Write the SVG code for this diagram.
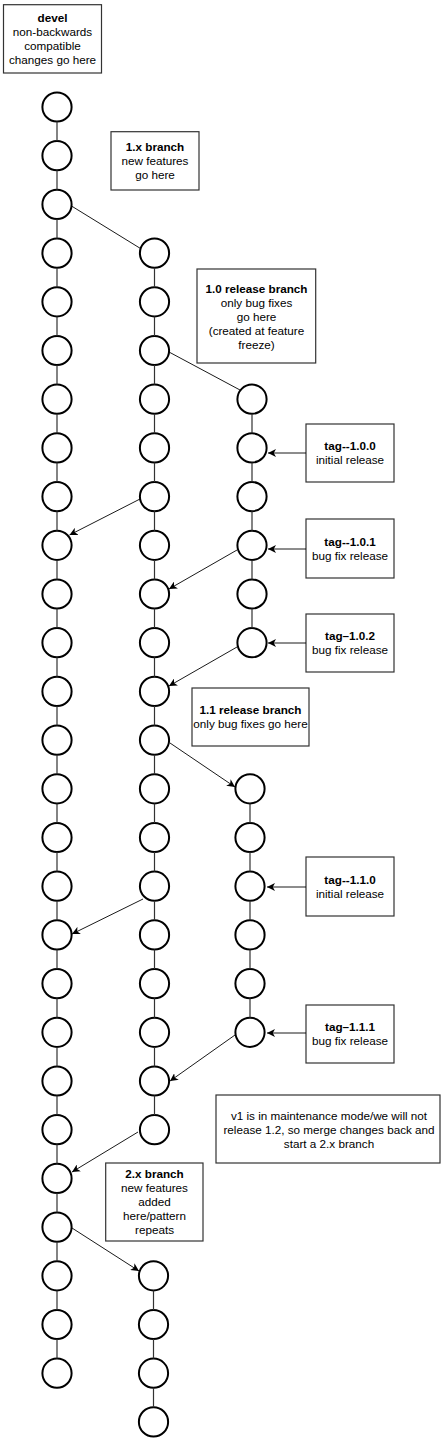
<svg xmlns="http://www.w3.org/2000/svg" width="446" height="1448" viewBox="0 0 446 1448">
<style>
.c{fill:#fff;stroke:#000;stroke-width:2}
.b{fill:#fff;stroke:#333;stroke-width:1.2}
.t{font-family:"Liberation Sans",Arial,Helvetica,sans-serif;font-size:11.7px;fill:#000;text-anchor:middle}
.bold{font-weight:bold}
.v{fill:none;stroke:#333;stroke-width:1.2}
.e{fill:none;stroke:#000;stroke-width:0.9}
.a{fill:none;stroke:#000;stroke-width:0.9;marker-end:url(#arr)}
</style>
<defs>
<marker id="arr" markerUnits="userSpaceOnUse" markerWidth="9" markerHeight="8" refX="8" refY="4" orient="auto">
<path d="M0,0 L8,4 L0,8 L2.2,4 Z" fill="#000"/>
</marker>
</defs>
<rect width="446" height="1448" fill="#fff"/>

<g id="labels">
<g id="devel-box">
<rect class="b" x="3.5" y="4.7" width="98" height="68.3"/>
<text class="t" x="52.5" y="22"><tspan class="bold">devel</tspan><tspan x="52.5" dy="14">non-backwards</tspan><tspan x="52.5" dy="14">compatible</tspan><tspan x="52.5" dy="14">changes go here</tspan></text>
</g>
<g id="1x-box">
<rect class="b" x="111" y="131.7" width="88" height="58.3"/>
<text class="t" x="155" y="151"><tspan class="bold">1.x branch</tspan><tspan x="155" dy="14">new features</tspan><tspan x="155" dy="14">go here</tspan></text>
</g>
<g id="10-box">
<rect class="b" x="197" y="269" width="118.7" height="94"/>
<text class="t" x="256.5" y="293"><tspan class="bold">1.0 release branch</tspan><tspan x="256.5" dy="14">only bug fixes</tspan><tspan x="256.5" dy="14">go here</tspan><tspan x="256.5" dy="14">(created at feature</tspan><tspan x="256.5" dy="14">freeze)</tspan></text>
</g>
<g id="11-box">
<rect class="b" x="192" y="688" width="117" height="58"/>
<text class="t" x="250.5" y="714"><tspan class="bold">1.1 release branch</tspan><tspan x="250.5" dy="14">only bug fixes go here</tspan></text>
</g>
<g id="tag100">
<rect class="b" x="306" y="424" width="88" height="58"/>
<text class="t" x="350" y="450"><tspan class="bold">tag--1.0.0</tspan><tspan x="350" dy="14">initial release</tspan></text>
</g>
<g id="tag101">
<rect class="b" x="306" y="519" width="88" height="59"/>
<text class="t" x="350" y="546"><tspan class="bold">tag--1.0.1</tspan><tspan x="350" dy="14">bug fix release</tspan></text>
</g>
<g id="tag102">
<rect class="b" x="306" y="614" width="88" height="58"/>
<text class="t" x="350" y="640"><tspan class="bold">tag–1.0.2</tspan><tspan x="350" dy="14">bug fix release</tspan></text>
</g>
<g id="tag110">
<rect class="b" x="306" y="857" width="88" height="59"/>
<text class="t" x="350" y="884"><tspan class="bold">tag--1.1.0</tspan><tspan x="350" dy="14">initial release</tspan></text>
</g>
<g id="tag111">
<rect class="b" x="306" y="1005" width="88" height="58"/>
<text class="t" x="350" y="1031"><tspan class="bold">tag–1.1.1</tspan><tspan x="350" dy="14">bug fix release</tspan></text>
</g>
<g id="v1-box">
<rect class="b" x="216" y="1095" width="224" height="68"/>
<text class="t" x="329" y="1120">v1 is in maintenance mode/we will not<tspan x="329" dy="14">release 1.2, so merge changes back and</tspan><tspan x="329" dy="14">start a 2.x branch</tspan></text>
</g>
<g id="2x-box">
<rect class="b" x="105.7" y="1163" width="97.3" height="78"/>
<text class="t" x="154.5" y="1178"><tspan class="bold">2.x branch</tspan><tspan x="154.5" dy="14">new features</tspan><tspan x="154.5" dy="14">added</tspan><tspan x="154.5" dy="14">here/pattern</tspan><tspan x="154.5" dy="14">repeats</tspan></text>
</g>
</g>

<g id="nodes">
<g id="devel">
<circle class="c" cx="57" cy="107" r="14.6"/>
<circle class="c" cx="57" cy="155.7" r="14.6"/>
<circle class="c" cx="57" cy="204.4" r="14.6"/>
<circle class="c" cx="57" cy="253.1" r="14.6"/>
<circle class="c" cx="57" cy="301.8" r="14.6"/>
<circle class="c" cx="57" cy="350.5" r="14.6"/>
<circle class="c" cx="57" cy="399.2" r="14.6"/>
<circle class="c" cx="57" cy="447.9" r="14.6"/>
<circle class="c" cx="57" cy="496.6" r="14.6"/>
<circle class="c" cx="57" cy="545.3" r="14.6"/>
<circle class="c" cx="57" cy="594" r="14.6"/>
<circle class="c" cx="57" cy="642.7" r="14.6"/>
<circle class="c" cx="57" cy="691.4" r="14.6"/>
<circle class="c" cx="57" cy="740.1" r="14.6"/>
<circle class="c" cx="57" cy="788.8" r="14.6"/>
<circle class="c" cx="57" cy="837.5" r="14.6"/>
<circle class="c" cx="57" cy="886.2" r="14.6"/>
<circle class="c" cx="57" cy="934.9" r="14.6"/>
<circle class="c" cx="57" cy="983.6" r="14.6"/>
<circle class="c" cx="57" cy="1032.3" r="14.6"/>
<circle class="c" cx="57" cy="1081" r="14.6"/>
<circle class="c" cx="57" cy="1129.7" r="14.6"/>
<circle class="c" cx="57" cy="1178.4" r="14.6"/>
<circle class="c" cx="57" cy="1227.1" r="14.6"/>
<circle class="c" cx="57" cy="1275.8" r="14.6"/>
<circle class="c" cx="57" cy="1324.5" r="14.6"/>
<circle class="c" cx="57" cy="1373.2" r="14.6"/>
</g>
<g id="branch-1x">
<circle class="c" cx="154.5" cy="253.1" r="14.6"/>
<circle class="c" cx="154.5" cy="301.8" r="14.6"/>
<circle class="c" cx="154.5" cy="350.5" r="14.6"/>
<circle class="c" cx="154.5" cy="399.2" r="14.6"/>
<circle class="c" cx="154.5" cy="447.9" r="14.6"/>
<circle class="c" cx="154.5" cy="496.6" r="14.6"/>
<circle class="c" cx="154.5" cy="545.3" r="14.6"/>
<circle class="c" cx="154.5" cy="594" r="14.6"/>
<circle class="c" cx="154.5" cy="642.7" r="14.6"/>
<circle class="c" cx="154.5" cy="691.4" r="14.6"/>
<circle class="c" cx="154.5" cy="740.1" r="14.6"/>
<circle class="c" cx="154.5" cy="788.8" r="14.6"/>
<circle class="c" cx="154.5" cy="837.5" r="14.6"/>
<circle class="c" cx="154.5" cy="886.2" r="14.6"/>
<circle class="c" cx="154.5" cy="934.9" r="14.6"/>
<circle class="c" cx="154.5" cy="983.6" r="14.6"/>
<circle class="c" cx="154.5" cy="1032.3" r="14.6"/>
<circle class="c" cx="154.5" cy="1081" r="14.6"/>
<circle class="c" cx="154.5" cy="1129.7" r="14.6"/>
</g>
<g id="branch-10">
<circle class="c" cx="252" cy="399.2" r="14.6"/>
<circle class="c" cx="252" cy="447.9" r="14.6"/>
<circle class="c" cx="252" cy="496.6" r="14.6"/>
<circle class="c" cx="252" cy="545.3" r="14.6"/>
<circle class="c" cx="252" cy="594" r="14.6"/>
<circle class="c" cx="252" cy="642.7" r="14.6"/>
</g>
<g id="branch-11">
<circle class="c" cx="250" cy="788.8" r="14.6"/>
<circle class="c" cx="250" cy="837.5" r="14.6"/>
<circle class="c" cx="250" cy="886.2" r="14.6"/>
<circle class="c" cx="250" cy="934.9" r="14.6"/>
<circle class="c" cx="250" cy="983.6" r="14.6"/>
<circle class="c" cx="250" cy="1032.3" r="14.6"/>
</g>
<g id="branch-2x">
<circle class="c" cx="153.5" cy="1275.8" r="14.6"/>
<circle class="c" cx="153.5" cy="1324.5" r="14.6"/>
<circle class="c" cx="153.5" cy="1373.2" r="14.6"/>
<circle class="c" cx="153.5" cy="1421.9" r="14.6"/>
</g>
</g>

<g id="connectors">
<path class="v" d="M57 121.6V141.1M57 170.3V189.8M57 219V238.5M57 267.7V287.2M57 316.4V335.9M57 365.1V384.6M57 413.8V433.3M57 462.5V482M57 511.2V530.7M57 559.9V579.4M57 608.6V628.1M57 657.3V676.8M57 706V725.5M57 754.7V774.2M57 803.4V822.9M57 852.1V871.6M57 900.8V920.3M57 949.5V969M57 998.2V1017.7M57 1046.9V1066.4M57 1095.6V1115.1M57 1144.3V1163.8M57 1193V1212.5M57 1241.7V1261.2M57 1290.4V1309.9M57 1339.1V1358.6"/>
<path class="v" d="M154.5 267.7V287.2M154.5 316.4V335.9M154.5 365.1V384.6M154.5 413.8V433.3M154.5 462.5V482M154.5 511.2V530.7M154.5 559.9V579.4M154.5 608.6V628.1M154.5 657.3V676.8M154.5 706V725.5M154.5 754.7V774.2M154.5 803.4V822.9M154.5 852.1V871.6M154.5 900.8V920.3M154.5 949.5V969M154.5 998.2V1017.7M154.5 1046.9V1066.4M154.5 1095.6V1115.1"/>
<path class="v" d="M252 413.8V433.3M252 462.5V482M252 511.2V530.7M252 559.9V579.4M252 608.6V628.1"/>
<path class="v" d="M250 803.4V822.9M250 852.1V871.6M250 900.8V920.3M250 949.5V969M250 998.2V1017.7"/>
<path class="v" d="M153.5 1290.4V1309.9M153.5 1339.1V1358.6M153.5 1387.8V1407.3"/>
<line class="e" x1="71.5" y1="206" x2="140.5" y2="248.5"/>
<line class="e" x1="169" y1="352" x2="240" y2="390"/>
<line class="a" x1="140" y1="499" x2="69.5" y2="535"/>
<line class="a" x1="237" y1="550" x2="169" y2="589"/>
<line class="a" x1="237" y1="647" x2="169" y2="686"/>
<line class="a" x1="170" y1="743" x2="235" y2="787"/>
<line class="a" x1="143" y1="899" x2="72" y2="934"/>
<line class="a" x1="235" y1="1035" x2="170" y2="1081"/>
<line class="a" x1="138" y1="1132" x2="72" y2="1172"/>
<line class="a" x1="72" y1="1228" x2="139" y2="1271"/>
<line class="a" x1="306" y1="453" x2="268" y2="453"/>
<line class="a" x1="306" y1="549" x2="268" y2="549"/>
<line class="a" x1="306" y1="643" x2="268" y2="643"/>
<line class="a" x1="306" y1="887" x2="267" y2="887"/>
<line class="a" x1="306" y1="1033" x2="267" y2="1033"/>
</g>
</svg>
